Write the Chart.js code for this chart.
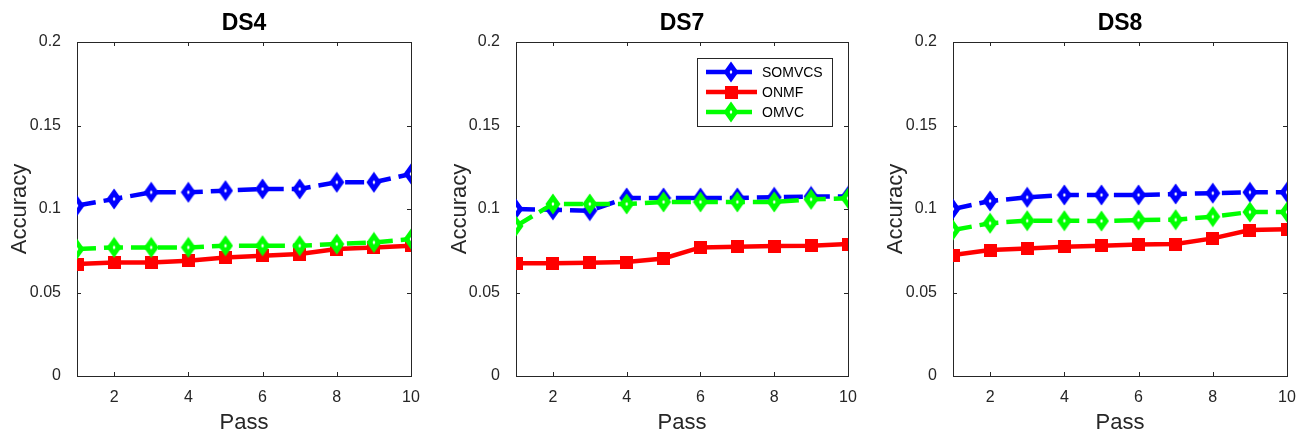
<!DOCTYPE html>
<html>
<head>
<meta charset="utf-8">
<script src="https://cdn.jsdelivr.net/npm/chart.js@4.4.1/dist/chart.umd.min.js"></script>
<style>
  body { margin: 0; background: #fff; }
  .wrap { position: relative; width: 1307px; height: 437px; overflow: hidden; }
  .wrap canvas { position: absolute; top: 0; }
</style>
</head>
<body>
<div class="wrap">
  <canvas id="ds4" width="436" height="437" style="left:0px"></canvas>
  <canvas id="ds7" width="436" height="437" style="left:436px"></canvas>
  <canvas id="ds8" width="435" height="437" style="left:872px"></canvas>
</div>
<script>
const passes = [1, 2, 3, 4, 5, 6, 7, 8, 9, 10]
const xTicks = [2, 4, 6, 8, 10]
const yTicks = [0, 0.05, 0.1, 0.15, 0.2]
const yTickLabels = ['0', '0.05', '0.1', '0.15', '0.2']
const seriesNames = ['SOMVCS', 'ONMF', 'OMVC']

const ds4Somvcs = [0.102, 0.106, 0.110, 0.110, 0.111, 0.112, 0.112, 0.116, 0.116, 0.121]
const ds4Onmf = [0.067, 0.068, 0.068, 0.069, 0.071, 0.072, 0.073, 0.076, 0.077, 0.078]
const ds4Omvc = [0.076, 0.077, 0.077, 0.077, 0.078, 0.078, 0.078, 0.079, 0.080, 0.082]

const ds7Somvcs = [0.100, 0.0995, 0.099, 0.1066, 0.1066, 0.1066, 0.1066, 0.107, 0.1075, 0.1075]
const ds7Onmf = [0.0675, 0.0675, 0.0678, 0.0682, 0.0704, 0.077, 0.0774, 0.0778, 0.078, 0.079]
const ds7Omvc = [0.0898, 0.103, 0.103, 0.103, 0.1042, 0.1042, 0.1042, 0.1042, 0.1058, 0.1064]

const ds8Somvcs = [0.100, 0.1048, 0.107, 0.1084, 0.1084, 0.1084, 0.109, 0.1095, 0.110, 0.110]
const ds8Onmf = [0.0724, 0.0754, 0.0764, 0.0774, 0.078, 0.0788, 0.079, 0.0824, 0.0874, 0.0878]
const ds8Omvc = [0.0874, 0.0915, 0.093, 0.093, 0.0928, 0.0934, 0.0936, 0.0954, 0.0982, 0.0982]

const FONT = '"Liberation Sans", Arial, Helvetica, sans-serif'
const AXIS_COLOR = '#262626'
Chart.defaults.font.family = FONT

// marker images, drawn like matlab's thick-edged markers
const diamond = (color) => {
  const c = document.createElement('canvas')
  c.width = 16
  c.height = 22
  const g = c.getContext('2d')
  g.beginPath()
  g.moveTo(8, 0.5)
  g.lineTo(15.5, 11)
  g.lineTo(8, 21.5)
  g.lineTo(0.5, 11)
  g.closePath()
  g.fillStyle = color
  g.fill()
  g.beginPath()
  g.moveTo(8, 8.8)
  g.lineTo(9.4, 11)
  g.lineTo(8, 13.2)
  g.lineTo(6.6, 11)
  g.closePath()
  g.fillStyle = '#fff'
  g.fill()
  return c
}

const square = (color) => {
  const c = document.createElement('canvas')
  c.width = 13
  c.height = 13
  const g = c.getContext('2d')
  g.fillStyle = color
  g.fillRect(0, 0, 13, 13)
  return c
}

const blueMark = diamond('#0000ff')
const redMark = square('#ff0000')
const greenMark = diamond('#00ff00')

const toPoints = (values) => values.map((v, i) => ({ x: passes[i], y: v }))

const makeDatasets = (somvcs, onmf, omvc) => [
  {
    label: seriesNames[0],
    data: toPoints(somvcs),
    borderColor: '#0000ff',
    backgroundColor: '#0000ff',
    borderWidth: 4.5,
    borderDash: [19, 8],
    pointStyle: blueMark,
    pointRadius: 8,
    order: 2,
  },
  {
    label: seriesNames[1],
    data: toPoints(onmf),
    borderColor: '#ff0000',
    backgroundColor: '#ff0000',
    borderWidth: 4.5,
    pointStyle: redMark,
    pointRadius: 7,
    order: 1,
  },
  {
    label: seriesNames[2],
    data: toPoints(omvc),
    borderColor: '#00ff00',
    backgroundColor: '#00ff00',
    borderWidth: 4.5,
    borderDash: [19, 8],
    pointStyle: greenMark,
    pointRadius: 8,
    order: 0,
  },
]

// box, inward ticks and title, matlab style
const frame = {
  id: 'frame',
  beforeDatasetsDraw(chart) {
    const { ctx, chartArea: a, scales } = chart
    ctx.save()
    ctx.strokeStyle = AXIS_COLOR
    ctx.lineWidth = 1
    ctx.strokeRect(a.left + 0.5, a.top + 0.5, a.right - a.left, a.bottom - a.top)
    ctx.beginPath()
    yTicks.forEach((v) => {
      const y = Math.round(scales.y.getPixelForValue(v)) + 0.5
      ctx.moveTo(a.left, y)
      ctx.lineTo(a.left + 4, y)
      ctx.moveTo(a.right, y)
      ctx.lineTo(a.right - 4, y)
    })
    xTicks.forEach((v) => {
      const x = Math.round(scales.x.getPixelForValue(v)) + 0.5
      ctx.moveTo(x, a.bottom)
      ctx.lineTo(x, a.bottom - 4)
      ctx.moveTo(x, a.top)
      ctx.lineTo(x, a.top + 4)
    })
    ctx.stroke()
    ctx.restore()
  },
  afterDraw(chart, args, opts) {
    const { ctx, chartArea: a } = chart
    ctx.save()
    ctx.fillStyle = '#000'
    ctx.font = 'bold 23px ' + FONT
    ctx.textAlign = 'center'
    ctx.textBaseline = 'middle'
    ctx.fillText(opts.title, (a.left + a.right) / 2, 24)
    ctx.restore()
  },
}

// legend box inside the plot (only on DS7)
const boxLegend = {
  id: 'boxLegend',
  afterDraw(chart, args, opts) {
    if (!opts.show) return
    const { ctx, chartArea: a } = chart
    const w = 135
    const h = 68
    const x0 = a.right - 16 - w
    const y0 = a.top + 16
    ctx.save()
    ctx.fillStyle = '#fff'
    ctx.fillRect(x0, y0, w, h)
    ctx.strokeStyle = AXIS_COLOR
    ctx.lineWidth = 1
    ctx.strokeRect(x0 + 0.5, y0 + 0.5, w, h)
    chart.data.datasets.forEach((ds, i) => {
      const y = y0 + 14 + i * 20
      ctx.beginPath()
      ctx.strokeStyle = ds.borderColor
      ctx.lineWidth = ds.borderWidth
      ctx.setLineDash(ds.borderDash || [])
      ctx.moveTo(x0 + 9, y)
      ctx.lineTo(x0 + 60, y)
      ctx.stroke()
      ctx.setLineDash([])
      const m = ds.pointStyle
      ctx.drawImage(m, x0 + 34 - m.width / 2, y - m.height / 2)
      ctx.fillStyle = '#000'
      ctx.font = '14px ' + FONT
      ctx.textAlign = 'left'
      ctx.textBaseline = 'middle'
      ctx.fillText(ds.label, x0 + 65, y + 1)
    })
    ctx.restore()
  },
}

const makeChart = (id, title, datasets, p) => {
  return new Chart(document.getElementById(id), {
    type: 'line',
    data: { datasets },
    options: {
      responsive: false,
      animation: false,
      layout: { padding: { left: 0, right: p.right, top: 42, bottom: 0 } },
      plugins: {
        legend: { display: false },
        tooltip: { enabled: false },
        frame: { title },
        boxLegend: { show: p.legend },
      },
      scales: {
        x: {
          type: 'linear',
          min: 1,
          max: 10,
          afterBuildTicks: (s) => {
            s.ticks = xTicks.map((v) => ({ value: v }))
          },
          afterFit: (s) => {
            s.height = 61
          },
          grid: { display: false },
          border: { display: false },
          ticks: {
            color: AXIS_COLOR,
            font: { size: 16 },
            padding: 4,
            maxRotation: 0,
            callback: (v) => String(v),
          },
          title: {
            display: true,
            text: 'Pass',
            color: AXIS_COLOR,
            font: { size: 22 },
            padding: { top: 0, bottom: 1 },
          },
        },
        y: {
          min: 0,
          max: 0.2,
          afterBuildTicks: (s) => {
            s.ticks = yTicks.map((v) => ({ value: v }))
          },
          afterFit: (s) => {
            s.width = p.left
          },
          grid: { display: false },
          border: { display: false },
          ticks: {
            color: AXIS_COLOR,
            font: { size: 16 },
            padding: 8,
            callback: (v, i) => yTickLabels[i],
          },
          title: {
            display: true,
            text: 'Accuracy',
            color: AXIS_COLOR,
            font: { size: 22 },
            padding: { top: p.titlePad, bottom: 0 },
          },
        },
      },
    },
    plugins: [frame, boxLegend],
  })
}

makeChart('ds4', 'DS4', makeDatasets(ds4Somvcs, ds4Onmf, ds4Omvc), { left: 77, right: 25, titlePad: 7, legend: false })
makeChart('ds7', 'DS7', makeDatasets(ds7Somvcs, ds7Onmf, ds7Omvc), { left: 80, right: 24, titlePad: 11, legend: true })
makeChart('ds8', 'DS8', makeDatasets(ds8Somvcs, ds8Onmf, ds8Omvc), { left: 81, right: 20, titlePad: 11, legend: false })
</script>
</body>
</html>
